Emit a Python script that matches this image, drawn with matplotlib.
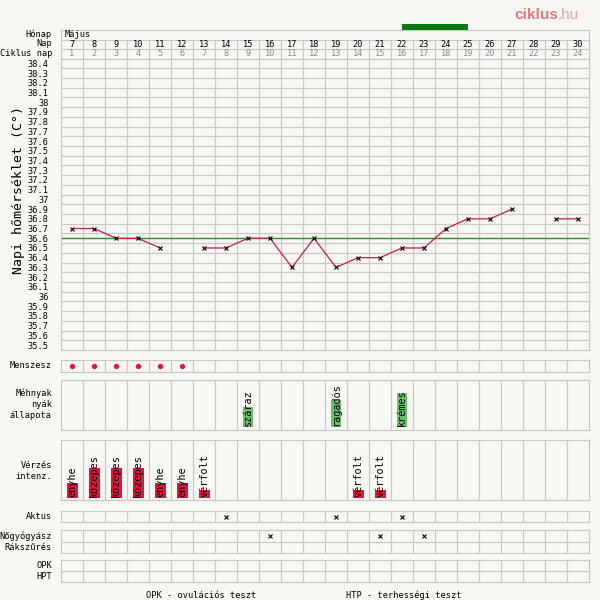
import numpy as np
import matplotlib
matplotlib.use("Agg")
import matplotlib.pyplot as plt

# ---- data -------------------------------------------------------------
month_label = "Május"
days = list(range(7, 31))
cycle_days = list(range(1, 25))
temps = [36.7, 36.7, 36.6, 36.6, 36.5, np.nan, 36.5, 36.5, 36.6, 36.6,
         36.3, 36.6, 36.3, 36.4, 36.4, 36.5, 36.5, 36.7, 36.8, 36.8,
         36.9, np.nan, 36.8, 36.8]
cover_temp = 36.6
temp_rows = [round(38.4 - 0.1 * i, 1) for i in range(30)]
fertile_window = (22, 25)

menses_days = [7, 8, 9, 10, 11, 12]

mucus_days = [15, 19, 22]
mucus_types = ["száraz", "ragadós", "krémes"]
mucus_levels = {"száraz": 3, "ragadós": 4, "krémes": 5}

bleed_days = [7, 8, 9, 10, 11, 12, 13, 20, 21]
bleed_types = ["enyhe", "közepes", "közepes", "közepes", "enyhe", "enyhe",
               "vérfolt", "vérfolt", "vérfolt"]
bleed_levels = {"vérfolt": 1, "enyhe": 2, "közepes": 4}

intercourse_days = [14, 19, 22]
gyn_days = [16, 21, 23]
screening_days = []
opk_days = []
hpt_days = []

# ---- styling ----------------------------------------------------------
W, H = 600, 600
BG = "#f9f7f3"
GRID = "#c8c8c8"
RED = "#e0143c"
LINE = "#c0204a"
GREEN_LINE = "#2a8a2a"
GREEN_BAR = "#6cbf6c"
MONO = "DejaVu Sans Mono"
X0, X1 = 61, 589

plt.rcParams["font.family"] = [MONO, "DejaVu Sans"]

fig = plt.figure(figsize=(W / 100, H / 100), dpi=100, facecolor=BG)

n = len(days)
xi = {d: i for i, d in enumerate(days)}


def px_axes(y0, y1, x0=X0, x1=X1):
    ax = fig.add_axes([x0 / W, 1 - y1 / H, (x1 - x0) / W, (y1 - y0) / H])
    ax.set_facecolor(BG)
    ax.set_xlim(-0.5, n - 0.5)
    ax.set_xticks([])
    ax.set_yticks([])
    for s in ax.spines.values():
        s.set_color(GRID)
        s.set_linewidth(0.9)
    return ax


def vgrid(ax):
    for k in range(1, n):
        ax.axvline(k - 0.5, color=GRID, lw=0.9, zorder=0)


def label(y, text, size=6.2):
    fig.text(52 / W, 1 - y / H, text, ha="right", va="center",
             fontsize=size, color="black")


# ---- header rows ------------------------------------------------------
hdr = px_axes(30, 58.5)
hdr.set_ylim(0, 3)
hdr.axhline(2, color=GRID, lw=0.9)
hdr.axhline(1, color=GRID, lw=0.9)
for k in range(1, n):
    hdr.plot([k - 0.5, k - 0.5], [0, 2], color=GRID, lw=0.9)
hdr.text(-0.35, 2.5, month_label, ha="left", va="center", fontsize=6.2)
for i, (d, c) in enumerate(zip(days, cycle_days)):
    hdr.text(i, 1.5, str(d), ha="center", va="center", fontsize=6.2,
             color="black")
    hdr.text(i, 0.5, str(c), ha="center", va="center", fontsize=6.2,
             color="#8a8a8a")
label(34.5, "Hónap")
label(44, "Nap")
label(53.5, "Ciklus nap")

# fertile window marker above the header
fw = px_axes(24, 30)
fw.axis("off")
fw.set_ylim(0, 1)
fw.barh(0.5, xi[fertile_window[1]] - xi[fertile_window[0]],
        left=xi[fertile_window[0]], height=1, color="#0a7a0a")

# ---- temperature chart ------------------------------------------------
tax = px_axes(58.5, 350)
tax.set_ylim(35.45, 38.45)
vgrid(tax)
for k in range(1, 30):
    tax.axhline(35.45 + 0.1 * k, color=GRID, lw=0.9, zorder=0)
tax.set_yticks(temp_rows)
tax.set_yticklabels([f"{v:g}" for v in temp_rows], fontsize=6.2)
tax.tick_params(axis="y", length=0, pad=9)
tax.axhline(cover_temp, color=GREEN_LINE, lw=1.0, zorder=2)
tax.plot(range(n), temps, color=LINE, lw=0.9, zorder=3)
tax.plot(range(n), temps, ls="none", marker="x", ms=3.5, mew=0.8,
         color="black", zorder=4)
fig.text(18 / W, 1 - 190 / H, "Napi hőmérséklet (C°)", rotation=90,
         ha="center", va="center", fontsize=9.5)

# ---- menstruation row -------------------------------------------------
men = px_axes(360, 372)
men.set_ylim(0, 1)
vgrid(men)
men.plot([xi[d] for d in menses_days], [0.5] * len(menses_days), "o",
         color=RED, ms=3.8, mec="none")
label(366, "Menszesz")

# ---- cervical mucus ---------------------------------------------------
muc = px_axes(380, 430)
muc.set_ylim(-0.5, 7.0)
vgrid(muc)
for d, t in zip(mucus_days, mucus_types):
    muc.bar(xi[d], mucus_levels[t], width=0.45, bottom=0, color=GREEN_BAR,
            zorder=2)
    muc.text(xi[d], 0.05, t, rotation=90, ha="center", va="bottom",
             fontsize=7.3, zorder=3)
fig.text(52 / W, 1 - 404 / H, "Méhnyak\nnyák\nállapota", ha="right",
         va="center", fontsize=6.2, linespacing=1.25, multialignment="right")

# ---- bleeding intensity -----------------------------------------------
ble = px_axes(440, 500)
ble.set_ylim(-0.3, 7.7)
vgrid(ble)
for d, t in zip(bleed_days, bleed_types):
    ble.bar(xi[d], bleed_levels[t], width=0.5, bottom=0, color=RED, zorder=2)
    ble.text(xi[d], 0.05, t, rotation=90, ha="center", va="bottom",
             fontsize=7.3, zorder=3)
fig.text(52 / W, 1 - 471 / H, "Vérzés\nintenz.", ha="right", va="center",
         fontsize=6.2, linespacing=1.3, multialignment="right")


# ---- event rows -------------------------------------------------------
def event_rows(y0, y1, rows):
    ax = px_axes(y0, y1)
    ax.set_ylim(0, len(rows))
    vgrid(ax)
    for r in range(1, len(rows)):
        ax.axhline(r, color=GRID, lw=0.9)
    for r, marks in enumerate(rows):
        yy = len(rows) - r - 0.5
        if marks:
            ax.plot([xi[d] for d in marks], [yy] * len(marks), "x",
                    color="black", ms=3, mew=0.8)
    return ax


event_rows(511, 522, [intercourse_days])
label(516.5, "Aktus")
event_rows(530, 553, [gyn_days, screening_days])
label(536, "Nőgyógyász")
label(547, "Rákszűrés")
event_rows(560, 582, [opk_days, hpt_days])
label(565.5, "OPK")
label(576.5, "HPT")

fig.text(201 / W, 1 - 595 / H, "OPK - ovulációs teszt", ha="center",
         va="center", fontsize=6.2)
fig.text(404 / W, 1 - 595 / H, "HTP - terhességi teszt", ha="center",
         va="center", fontsize=6.2)

# ---- site logo --------------------------------------------------------
fig.text(558 / W, 1 - 15 / H, "ciklus", ha="right", va="center",
         fontsize=11, fontweight="bold", color="#e07878",
         family="Liberation Sans")
fig.text(558 / W, 1 - 15 / H, ".hu", ha="left", va="center",
         fontsize=11, color="#e8a4a4", family="Liberation Sans")

fig.savefig("out.png", dpi=100, facecolor=BG)
